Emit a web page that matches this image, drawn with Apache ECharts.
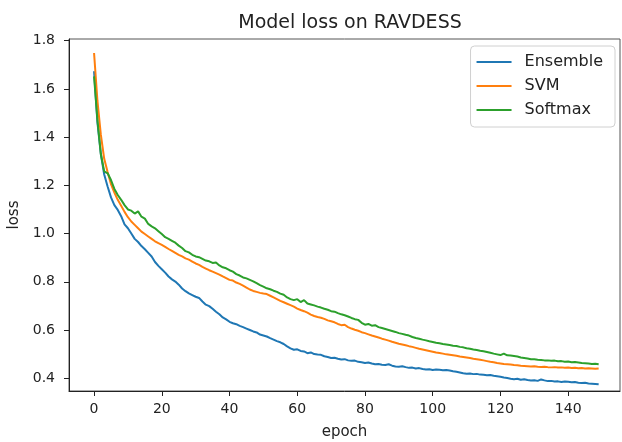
<!DOCTYPE html>
<html>
<head>
<meta charset="utf-8">
<title>Model loss on RAVDESS</title>
<script src="https://cdn.jsdelivr.net/npm/echarts@6/dist/echarts.min.js"></script>
<style>
  html,body{margin:0;padding:0;background:#fff;}
  #chart{width:622px;height:442px;}
</style>
</head>
<body>
<div id="chart"></div>
<script>
// loss per epoch
var ensembleLoss = [
  1.673,1.46,1.33,1.245,1.195,1.150,1.118,1.098,1.072,1.038,
  1.022,1.000,0.978,0.965,0.948,0.935,0.920,0.905,0.882,0.866,
  0.852,0.838,0.822,0.810,0.801,0.788,0.772,0.761,0.752,0.745,
  0.738,0.733,0.718,0.705,0.699,0.688,0.676,0.665,0.652,0.644,
  0.634,0.628,0.624,0.617,0.612,0.606,0.600,0.594,0.590,0.581,
  0.577,0.573,0.566,0.560,0.554,0.549,0.542,0.532,0.524,0.518,
  0.520,0.513,0.511,0.504,0.507,0.500,0.498,0.497,0.491,0.488,
  0.484,0.485,0.481,0.478,0.479,0.474,0.472,0.473,0.468,0.466,
  0.463,0.465,0.461,0.458,0.459,0.456,0.455,0.458,0.452,0.449,
  0.448,0.450,0.446,0.443,0.444,0.440,0.442,0.438,0.436,0.437,
  0.434,0.436,0.435,0.433,0.434,0.432,0.429,0.427,0.424,0.421,
  0.419,0.420,0.417,0.418,0.415,0.414,0.412,0.413,0.410,0.408,
  0.406,0.403,0.401,0.398,0.396,0.398,0.394,0.396,0.393,0.391,
  0.392,0.389,0.395,0.391,0.388,0.389,0.386,0.387,0.384,0.386,
  0.385,0.383,0.384,0.381,0.380,0.381,0.378,0.377,0.376,0.375
];
var svmLoss = [
  1.749,1.55,1.41,1.31,1.255,1.205,1.170,1.140,1.115,1.090,
  1.068,1.050,1.036,1.022,1.008,0.998,0.988,0.978,0.968,0.960,
  0.953,0.945,0.936,0.928,0.920,0.912,0.905,0.897,0.892,0.884,
  0.876,0.870,0.862,0.855,0.848,0.842,0.836,0.830,0.822,0.815,
  0.808,0.805,0.797,0.791,0.784,0.776,0.768,0.762,0.758,0.754,
  0.751,0.749,0.742,0.735,0.728,0.721,0.715,0.709,0.703,0.697,
  0.689,0.683,0.678,0.672,0.664,0.658,0.654,0.651,0.646,0.640,
  0.636,0.632,0.625,0.620,0.622,0.612,0.606,0.601,0.597,0.591,
  0.587,0.582,0.577,0.573,0.569,0.564,0.560,0.556,0.551,0.547,
  0.543,0.540,0.537,0.533,0.530,0.526,0.522,0.519,0.516,0.513,
  0.510,0.507,0.505,0.502,0.499,0.497,0.495,0.493,0.490,0.488,
  0.486,0.484,0.481,0.479,0.477,0.474,0.471,0.468,0.466,0.463,
  0.461,0.459,0.458,0.457,0.455,0.454,0.452,0.451,0.450,0.449,
  0.450,0.448,0.447,0.448,0.446,0.445,0.446,0.444,0.445,0.443,
  0.444,0.442,0.443,0.441,0.442,0.440,0.441,0.440,0.439,0.440
];
var softmaxLoss = [
  1.652,1.47,1.33,1.258,1.250,1.222,1.185,1.160,1.140,1.118,
  1.100,1.095,1.083,1.092,1.070,1.062,1.040,1.030,1.022,1.010,
  0.998,0.985,0.978,0.970,0.962,0.950,0.940,0.927,0.922,0.912,
  0.905,0.902,0.895,0.888,0.885,0.878,0.880,0.868,0.860,0.856,
  0.848,0.842,0.832,0.826,0.818,0.814,0.808,0.802,0.794,0.786,
  0.780,0.773,0.769,0.763,0.758,0.751,0.746,0.735,0.728,0.724,
  0.728,0.716,0.724,0.710,0.706,0.702,0.697,0.693,0.688,0.684,
  0.678,0.676,0.670,0.665,0.661,0.656,0.650,0.645,0.642,0.630,
  0.622,0.625,0.618,0.620,0.612,0.608,0.604,0.600,0.596,0.592,
  0.587,0.584,0.580,0.577,0.571,0.567,0.564,0.560,0.557,0.553,
  0.550,0.547,0.545,0.542,0.540,0.538,0.535,0.534,0.530,0.528,
  0.524,0.522,0.519,0.517,0.514,0.512,0.509,0.506,0.502,0.499,
  0.496,0.502,0.495,0.494,0.492,0.490,0.486,0.484,0.482,0.479,
  0.479,0.477,0.476,0.474,0.474,0.472,0.473,0.470,0.471,0.468,
  0.469,0.466,0.467,0.465,0.463,0.462,0.461,0.459,0.460,0.458
];
var seriesNames = ['Ensemble', 'SVM', 'Softmax'];
var seriesColors = ['#1f77b4', '#ff7f0e', '#2ca02c'];
var xTicks = [0, 20, 40, 60, 80, 100, 120, 140];
var yTicks = [0.4, 0.6, 0.8, 1.0, 1.2, 1.4, 1.6, 1.8];

var font = 'DejaVu Sans';

// epoch index -> [epoch, loss]
function toPairs(arr) {
  return arr.map(function (v, i) { return [i, v]; });
}

var chart = echarts.init(document.getElementById('chart'));
var option = {
  animation: false,
  backgroundColor: '#fff',
  title: {
    text: 'Model loss on RAVDESS',
    left: 345,
    top: 9,
    textAlign: 'center',
    textStyle: { fontFamily: font, fontSize: 19, fontWeight: 'normal', color: '#222' }
  },
  legend: {
    orient: 'vertical',
    right: 7,
    top: 46,
    data: seriesNames,
    icon: 'rect',
    itemWidth: 35,
    itemHeight: 2,
    itemGap: 8,
    padding: [8, 12, 9, 6],
    borderColor: '#d0d0d0',
    borderWidth: 1,
    borderRadius: 4,
    textStyle: { fontFamily: font, fontSize: 16, lineHeight: 16, color: '#222', padding: [0, 0, 0, 8] }
  },
  grid: {
    left: 69, right: 2, top: 39, bottom: 51,
    show: true,
    borderColor: '#555',
    borderWidth: 1,
    outerBoundsMode: 'none'
  },
  xAxis: {
    type: 'value',
    min: -7.4,
    max: 155.3,
    name: 'epoch',
    nameLocation: 'middle',
    nameGap: 34,
    nameTextStyle: { fontFamily: font, fontSize: 15, color: '#222' },
    splitLine: { show: false },
    axisLine: { onZero: false, lineStyle: { color: '#222', width: 1 } },
    axisTick: { customValues: xTicks, length: 5, lineStyle: { color: '#222' } },
    axisLabel: { customValues: xTicks, margin: 11, fontFamily: font, fontSize: 14, color: '#222' }
  },
  yAxis: {
    type: 'value',
    min: 0.347,
    max: 1.807,
    name: 'loss',
    nameLocation: 'middle',
    nameGap: 45,
    nameTextStyle: { fontFamily: font, fontSize: 15, color: '#222' },
    splitLine: { show: false },
    axisLine: { onZero: false, lineStyle: { color: '#222', width: 1 } },
    axisTick: { customValues: yTicks, length: 5, lineStyle: { color: '#222' } },
    axisLabel: {
      customValues: yTicks, margin: 14, fontFamily: font, fontSize: 14, color: '#222',
      formatter: function (v) { return v.toFixed(1); }
    }
  },
  series: [
    { name: seriesNames[0], data: toPairs(ensembleLoss) },
    { name: seriesNames[1], data: toPairs(svmLoss) },
    { name: seriesNames[2], data: toPairs(softmaxLoss) }
  ].map(function (s, i) {
    return {
      name: s.name,
      type: 'line',
      data: s.data,
      showSymbol: false,
      symbol: 'none',
      color: seriesColors[i],
      lineStyle: { width: 2, color: seriesColors[i] }
    };
  })
};
chart.setOption(option);
</script>
</body>
</html>
